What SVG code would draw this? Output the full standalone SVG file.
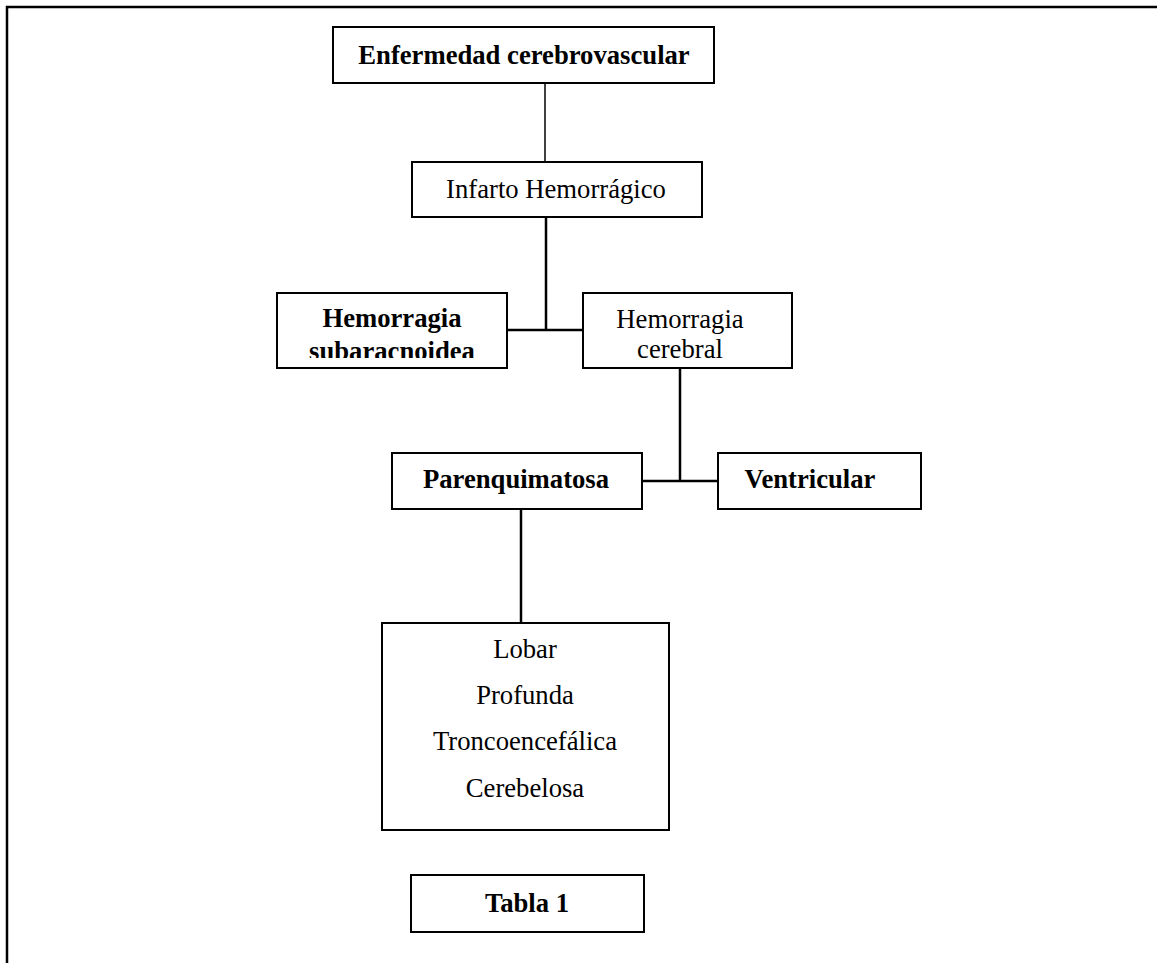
<svg xmlns="http://www.w3.org/2000/svg" width="1157" height="963" viewBox="0 0 1157 963">
<style>
.box{fill:#fff;stroke:#000;stroke-width:2}
.t{font-family:"Liberation Serif","Times New Roman",serif;font-size:26.67px;fill:#000;text-anchor:middle}
.b{font-weight:bold}
.c{stroke:#000;fill:none;stroke-width:2.5}
.frame{stroke:#000;fill:none;stroke-width:2.5}
</style>
<defs>
<clipPath id="clipSub"><rect x="277" y="293" width="230" height="65"/></clipPath>
</defs>
<rect width="1157" height="963" fill="#fff"/>
<g id="frame">
<path class="frame" d="M7,963 V7 H1157"/>
</g>
<g id="connectors">
<path class="c" style="stroke-width:1.5" d="M545,83 V162"/>
<path class="c" d="M546,217 V330 M507,330 H583"/>
<path class="c" d="M680,368 V481 M642,481 H718"/>
<path class="c" d="M521,509 V623"/>
</g>
<g id="n1">
<rect class="box" x="333" y="27" width="381" height="56"/>
<text class="t b" x="524" y="64">Enfermedad cerebrovascular</text>
</g>
<g id="n2">
<rect class="box" x="412" y="162" width="290" height="55"/>
<text class="t" x="556" y="198">Infarto Hemorrágico</text>
</g>
<g id="n3">
<rect class="box" x="277" y="293" width="230" height="75"/>
<g clip-path="url(#clipSub)">
<text class="t b" x="392" y="327">Hemorragia</text>
<text class="t b" x="392" y="360">subaracnoidea</text>
</g>
</g>
<g id="n4">
<rect class="box" x="583" y="293" width="209" height="75"/>
<text class="t" x="680" y="328">Hemorragia</text>
<text class="t" x="680" y="358">cerebral</text>
</g>
<g id="n5">
<rect class="box" x="392" y="453" width="250" height="56"/>
<text class="t b" x="516" y="488">Parenquimatosa</text>
</g>
<g id="n6">
<rect class="box" x="718" y="453" width="203" height="56"/>
<text class="t b" x="810" y="488">Ventricular</text>
</g>
<g id="n7">
<rect class="box" x="382" y="623" width="287" height="207"/>
<text class="t" x="525" y="658">Lobar</text>
<text class="t" x="525" y="704">Profunda</text>
<text class="t" x="525" y="750">Troncoencefálica</text>
<text class="t" x="525" y="797">Cerebelosa</text>
</g>
<g id="n8">
<rect class="box" x="411" y="875" width="233" height="57"/>
<text class="t b" x="527" y="912">Tabla 1</text>
</g>
</svg>
